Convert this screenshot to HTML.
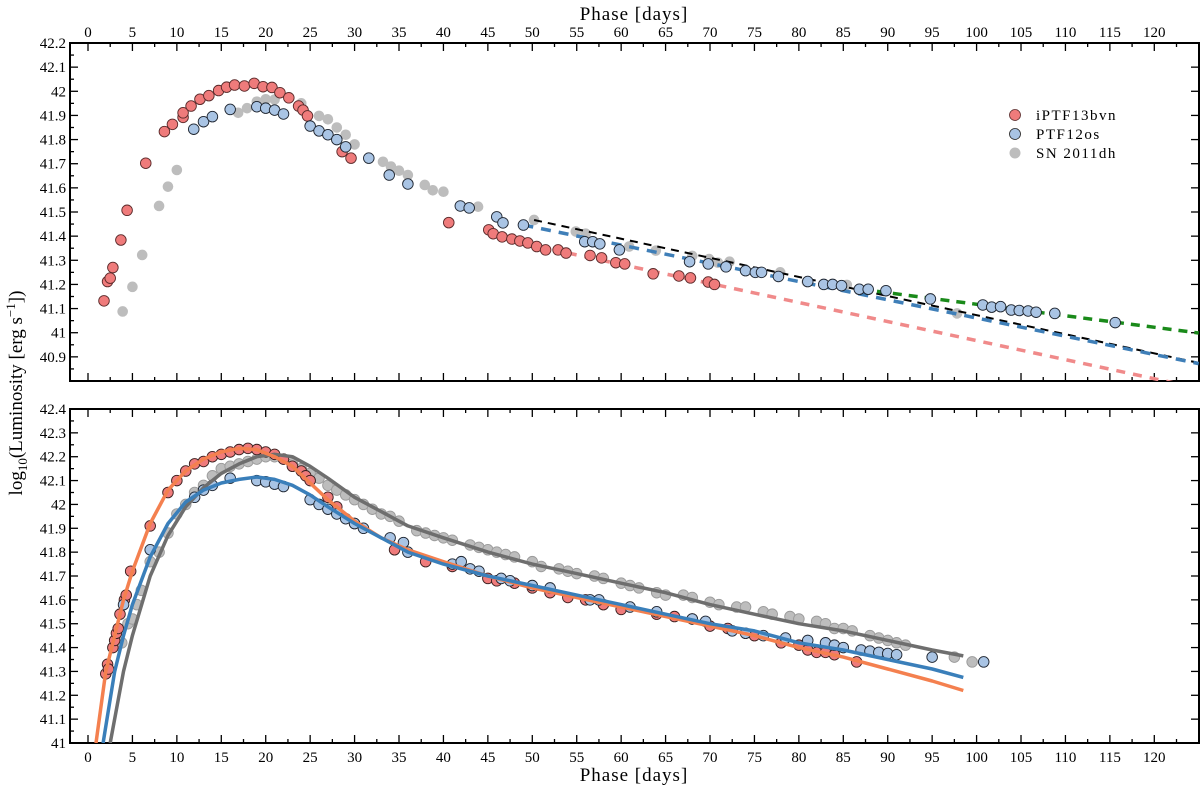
<!DOCTYPE html>
<html><head><meta charset="utf-8"><style>
html,body{margin:0;padding:0;background:#fff;}
svg{display:block;font-family:"Liberation Serif",serif;}
</style></head><body>
<svg id="chart" width="1200" height="787" viewBox="0 0 1200 787" xmlns="http://www.w3.org/2000/svg">
<text x="634" y="20" font-size="19" text-anchor="middle" letter-spacing="1">Phase [days]</text>
<text x="634" y="781" font-size="19" text-anchor="middle" letter-spacing="1">Phase [days]</text>
<text transform="translate(22,393) rotate(-90)" font-size="19" text-anchor="middle">log<tspan font-size="13" dy="5">10</tspan><tspan dy="-5">(Luminosity [erg s</tspan><tspan font-size="13" dy="-7">−1</tspan><tspan dy="7">])</tspan></text>
<g>
<circle cx="1015" cy="115" r="5.5" fill="#ef7b7b" stroke="#5a2a2a" stroke-width="0.8"/>
<text x="1036" y="120" font-size="15" letter-spacing="1.5">iPTF13bvn</text>
<circle cx="1015" cy="134" r="5.5" fill="#a9c4e4" stroke="#222" stroke-width="0.8"/>
<text x="1036" y="139" font-size="15" letter-spacing="1.5">PTF12os</text>
<circle cx="1015" cy="153" r="5.5" fill="#bdbdbd"/>
<text x="1036" y="158" font-size="15" letter-spacing="1.5">SN 2011dh</text>
</g>
</svg>
<script>
// ---- data: top panel ----
const topRedX=[1.8,2.2,2.5,2.8,3.7,4.4,6.5,8.6,9.5,10.7,10.7,11.6,12.6,13.6,14.7,15.6,16.5,17.6,18.7,19.7,20.7,21.6,22.6,23.7,24.2,24.7,28.6,29.6,40.6,45.1,45.6,46.6,47.7,48.6,49.5,50.5,51.5,52.9,53.8,56.5,57.8,59.4,60.4,63.6,66.5,67.8,69.8,70.5];
const topRedY=[41.132,41.212,41.226,41.27,41.384,41.507,41.702,41.833,41.863,41.892,41.911,41.939,41.967,41.982,42.003,42.017,42.026,42.022,42.033,42.019,42.016,41.994,41.973,41.939,41.922,41.898,41.75,41.723,41.456,41.426,41.41,41.397,41.388,41.38,41.372,41.357,41.343,41.343,41.33,41.32,41.31,41.29,41.285,41.244,41.235,41.227,41.21,41.2];
const topBlueX=[11.9,13,14,16,19,20,21,22,25,26,27,28,29,31.6,33.9,36,41.9,42.9,46,46.7,49,55.9,56.8,57.6,59.8,67.7,69.8,71.8,74,75.1,75.8,77.7,81,82.8,83.8,84.8,86.8,87.8,89.8,94.8,100.7,101.7,102.7,103.9,104.8,105.8,106.7,108.8,115.6];
const topBlueY=[41.843,41.874,41.895,41.925,41.936,41.93,41.922,41.906,41.856,41.836,41.82,41.8,41.77,41.723,41.653,41.616,41.525,41.517,41.48,41.455,41.446,41.377,41.377,41.368,41.343,41.294,41.285,41.273,41.257,41.25,41.25,41.233,41.212,41.2,41.2,41.195,41.18,41.18,41.174,41.14,41.115,41.106,41.108,41.094,41.092,41.09,41.085,41.08,41.042];
const topGrayX=[3.9,5,6.1,8,9,10,16.9,17.9,19,20,21,24,26,27,28,29,30,33.2,34.1,35,36,37.9,38.8,40,43.9,50.2,54.9,56,60.9,63.9,68,69.9,70.9,72.2,77.9,80.9,85.4,97.8];
const topGrayY=[41.088,41.19,41.322,41.525,41.605,41.674,41.911,41.93,41.957,41.967,41.966,41.95,41.898,41.884,41.85,41.82,41.78,41.708,41.688,41.671,41.653,41.612,41.59,41.584,41.522,41.467,41.419,41.41,41.357,41.34,41.318,41.305,41.29,41.294,41.25,41.21,41.198,41.08];
// dashed fit lines: [x0, y0, x1, y1]
const fitBlack=[50.2,41.467,125,40.875];
const fitBlue=[49,41.446,125,40.872];
const fitRed=[54,41.33,125,40.77];
const fitGreen=[87,41.18,125,40.999];
// ---- data: bottom panel ----
const botRedX=[2,2.2,2.3,2.8,3,3.2,3.4,3.6,4.1,4.3,4.8,7,9,10,11,12,13,14,15,16,17,18,19,20,21,22,23,24,24.5,25,27,28,30,34.5,38,41,45,46,48,50,52,54,56,58,60,64,66,68,70,72,75,78,80,81,82,83,84,86.5];
const botRedY=[41.29,41.33,41.31,41.4,41.43,41.46,41.48,41.54,41.6,41.62,41.72,41.91,42.05,42.1,42.14,42.17,42.18,42.2,42.21,42.22,42.23,42.235,42.23,42.22,42.21,42.19,42.16,42.14,42.12,42.1,42.03,41.99,41.92,41.81,41.76,41.74,41.69,41.68,41.67,41.65,41.63,41.61,41.6,41.58,41.56,41.54,41.53,41.52,41.49,41.48,41.45,41.42,41.41,41.39,41.38,41.38,41.37,41.34];
const botBlueX=[4,7,12,13,14,16,19,20,21,22,25,26,27,28,29,30,31,34,35.5,36,41,42,43,44,46.5,47.5,50,52,56.5,57.5,61,64,68,69.5,72.5,74,76,78.5,81,83,84,85,87,88,89,90,91,95,100.8];
const botBlueY=[41.58,41.81,42.03,42.06,42.08,42.11,42.1,42.095,42.085,42.075,42.02,42.0,41.98,41.96,41.94,41.92,41.9,41.86,41.84,41.8,41.75,41.76,41.73,41.72,41.69,41.68,41.66,41.65,41.6,41.6,41.57,41.55,41.52,41.51,41.47,41.46,41.45,41.44,41.43,41.42,41.41,41.4,41.39,41.385,41.38,41.375,41.37,41.36,41.34];
const botGrayX=[3.8,4.5,5,5.5,6,7,8,9,10,11,12,13,14,15,16,17,18,19,20,21,22,23,24,25,26,27,28,29,30,31,32,33,34,35,37,38,39,40,41,43,44,45,46,47,48,50,51,53,54,55,57,58,60,61,62,64,65,67,68,70,71,73,74,76,77,79,80,82,83,84,85,86,88,89,90,91,92,97.5,99.5];
const botGrayY=[41.42,41.5,41.52,41.58,41.64,41.76,41.8,41.88,41.96,42.0,42.05,42.08,42.12,42.15,42.16,42.17,42.18,42.19,42.2,42.2,42.19,42.17,42.15,42.13,42.11,42.08,42.06,42.04,42.02,42.0,41.98,41.96,41.95,41.93,41.89,41.88,41.87,41.86,41.85,41.83,41.82,41.81,41.8,41.79,41.78,41.76,41.74,41.73,41.72,41.71,41.7,41.69,41.67,41.66,41.65,41.63,41.62,41.62,41.61,41.59,41.58,41.57,41.57,41.55,41.54,41.53,41.52,41.51,41.5,41.48,41.48,41.47,41.45,41.44,41.43,41.42,41.41,41.36,41.34];
const modelRedX=[0.9,2,3,4,5,7,9,11,13,15,17,19,21,23,25,27,30,33,36,40,45,50,55,60,65,70,75,80,85,90,95,98.5];
const modelRedY=[41,41.3,41.45,41.6,41.72,41.92,42.06,42.14,42.19,42.22,42.235,42.23,42.2,42.16,42.09,42.02,41.93,41.86,41.81,41.76,41.7,41.65,41.61,41.57,41.53,41.49,41.45,41.4,41.36,41.31,41.26,41.22];
const modelBlueX=[1.7,3,4,5,7,9,11,13,15,17,19,21,23,25,27,30,33,36,40,45,50,55,60,65,70,75,80,85,90,95,98.5];
const modelBlueY=[41,41.3,41.45,41.58,41.78,41.92,42.01,42.06,42.09,42.105,42.115,42.105,42.08,42.04,41.99,41.92,41.86,41.8,41.75,41.7,41.66,41.62,41.58,41.54,41.5,41.47,41.42,41.39,41.35,41.31,41.275];
const modelGrayX=[2.5,4,5,7,9,11,13,15,17,19,21,23,25,27,30,33,36,40,45,50,55,60,65,70,75,80,85,90,95,98.5];
const modelGrayY=[41,41.3,41.45,41.7,41.87,41.99,42.07,42.13,42.17,42.2,42.21,42.2,42.16,42.11,42.03,41.97,41.91,41.86,41.8,41.75,41.71,41.67,41.63,41.58,41.54,41.5,41.47,41.43,41.39,41.365];
const xTicks=[0,5,10,15,20,25,30,35,40,45,50,55,60,65,70,75,80,85,90,95,100,105,110,115,120];
const topYTicks=[40.9,41,41.1,41.2,41.3,41.4,41.5,41.6,41.7,41.8,41.9,42,42.1,42.2];
const botYTicks=[41,41.1,41.2,41.3,41.4,41.5,41.6,41.7,41.8,41.9,42,42.1,42.2,42.3,42.4];

const NS="http://www.w3.org/2000/svg";
const svgEl=document.getElementById('chart');
const L=70,R=1199;
const xs=d=>88+(d)*(1154.3-88)/120;
function mk(tag,attrs,parent){const e=document.createElementNS(NS,tag);for(const k in attrs)e.setAttribute(k,attrs[k]);(parent||svgEl).appendChild(e);return e;}
function fmt(v){return String(Math.round(v*10)/10);}

function panel(name,pTop,pBottom,ymin,ymax,yticks,topLabels,bottomLabels){
  const ys=v=>pBottom-(v-ymin)/(ymax-ymin)*(pBottom-pTop);
  const g=mk('g',{});
  
  
  const cid='clip-'+name;
  const cp=mk('clipPath',{id:cid},g);mk('rect',{x:L,y:pTop,width:R-L,height:pBottom-pTop},cp);
  const frame=mk('rect',{x:L,y:pTop,width:R-L,height:pBottom-pTop,fill:'none',stroke:'#000','stroke-width':2},g);
  
  
  for(let d=0;d<=125;d+=2.5){
    const maj=(d%5===0);const x=xs(d);if(x>R-1)continue;
    const len=maj?8:4;
    mk('line',{x1:x,x2:x,y1:pTop,y2:pTop+len,stroke:'#000','stroke-width':1.3},g);
    mk('line',{x1:x,x2:x,y1:pBottom,y2:pBottom-len,stroke:'#000','stroke-width':1.3},g);
  }
  xTicks.forEach(d=>{
    const x=xs(d);
    if(topLabels){const t=mk('text',{x:x,y:pTop-6,'font-size':15,'text-anchor':'middle'},g);t.textContent=d;
      
      }
    if(bottomLabels){const t=mk('text',{x:x,y:pBottom+19,'font-size':15,'text-anchor':'middle'},g);t.textContent=d;
      
      }
  });
  for(let v=Math.round(ymin*20);v<=Math.round(ymax*20);v++){
    const y=ys(v/20);const maj=(v%2===0);
    mk('line',{x1:L,x2:L+(maj?8:4),y1:y,y2:y,stroke:'#000','stroke-width':1.3},g);
    if(maj)mk('line',{x1:R,x2:R-8,y1:y,y2:y,stroke:'#000','stroke-width':1.3},g);
  }
  yticks.forEach(v=>{const t=mk('text',{x:L-4,y:ys(v)+5,'font-size':15,'text-anchor':'end'},g);t.textContent=fmt(v);
    
    });
  const plot=mk('g',{'clip-path':'url(#'+cid+')'},g);
  return {ys,plot};
}
function points(p,xsArr,ysArr,fill,stroke,name){
  xsArr.forEach((d,i)=>{
    const c=mk('circle',{cx:xs(d),cy:p.ys(ysArr[i]),r:5.3,fill:fill,stroke:stroke||'none','stroke-width':stroke?0.9:0},p.plot);
    
    
  });
}
function curve(p,xa,ya,color,w,dash,name){
  const dstr=xa.map((d,i)=>(i?'L':'M')+xs(d).toFixed(1)+' '+p.ys(ya[i]).toFixed(1)).join(' ');
  const e=mk('path',{d:dstr,fill:'none',stroke:color,'stroke-width':w,'stroke-dasharray':dash||'none','stroke-linejoin':'round'},p.plot);
  
  
}
function fit(p,f,color,w,dash,name){curve(p,[f[0],f[2]],[f[1],f[3]],color,w,dash,name);}

const topPanel=panel('top',43,381,40.8,42.2,topYTicks,true,false);
points(topPanel,topGrayX,topGrayY,'#bdbdbd',null,'sn2011dh-point');
fit(topPanel,fitRed,'#f08a8a',3.5,'9 8','iptf13bvn-fit-line');
fit(topPanel,fitBlack,'#000',2,'8 6','sn2011dh-fit-line');
fit(topPanel,fitBlue,'#3f7fb8',3.5,'10 8','ptf12os-fit-line');
fit(topPanel,fitGreen,'#1a8a1a',3.5,'9 7','ptf12os-late-fit-line');
points(topPanel,topRedX,topRedY,'#ef7b7b','#5a2a2a','iptf13bvn-point');
points(topPanel,topBlueX,topBlueY,'#a9c4e4','#1e2530','ptf12os-point');

const botPanel=panel('bottom',409,743,41,42.4,botYTicks,false,true);
points(botPanel,botGrayX,botGrayY,'#bdbdbd','#9a9a9a','sn2011dh-point');
points(botPanel,botRedX,botRedY,'#ef7b7b','#3a1f1f','iptf13bvn-point');
points(botPanel,botBlueX,botBlueY,'#a9c4e4','#1e2530','ptf12os-point');
curve(botPanel,modelGrayX,modelGrayY,'#6e6e6e',3.5,null,'sn2011dh-model-curve');
curve(botPanel,modelRedX,modelRedY,'#f4804f',3.5,null,'iptf13bvn-model-curve');
curve(botPanel,modelBlueX,modelBlueY,'#3a7fba',3.5,null,'ptf12os-model-curve');
</script>
</body></html>
